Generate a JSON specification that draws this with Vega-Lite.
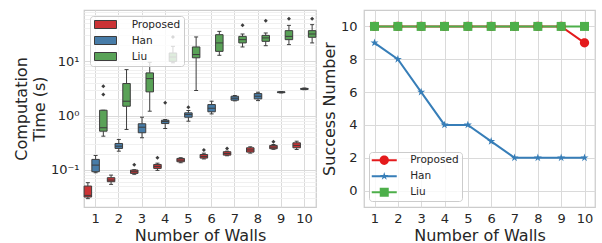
{
  "$schema": "https://vega.github.io/schema/vega-lite/v6.json",
  "padding": {"left": 12, "right": 0, "top": 5, "bottom": 0},
  "spacing": 2,
  "datasets": {
    "boxes": [
      {"walls": 1, "method": "Proposed", "lo": 0.0296, "q1": 0.0317, "med": 0.034, "q3": 0.0505, "hi": 0.0582},
      {"walls": 2, "method": "Proposed", "lo": 0.0542, "q1": 0.0607, "med": 0.065, "q3": 0.0719, "hi": 0.0803},
      {"walls": 3, "method": "Proposed", "lo": 0.083, "q1": 0.0863, "med": 0.0927, "q3": 0.0992, "hi": 0.101},
      {"walls": 4, "method": "Proposed", "lo": 0.098, "q1": 0.1066, "med": 0.116, "q3": 0.126, "hi": 0.133},
      {"walls": 5, "method": "Proposed", "lo": 0.1355, "q1": 0.1413, "med": 0.1513, "q3": 0.1626, "hi": 0.1675},
      {"walls": 6, "method": "Proposed", "lo": 0.159, "q1": 0.165, "med": 0.177, "q3": 0.192, "hi": 0.203},
      {"walls": 7, "method": "Proposed", "lo": 0.182, "q1": 0.187, "med": 0.2, "q3": 0.216, "hi": 0.221},
      {"walls": 8, "method": "Proposed", "lo": 0.2035, "q1": 0.2125, "med": 0.233, "q3": 0.255, "hi": 0.266},
      {"walls": 9, "method": "Proposed", "lo": 0.239, "q1": 0.245, "med": 0.262, "q3": 0.282, "hi": 0.293},
      {"walls": 10, "method": "Proposed", "lo": 0.2375, "q1": 0.255, "med": 0.282, "q3": 0.315, "hi": 0.337},
      {"walls": 1, "method": "Han", "lo": 0.0888, "q1": 0.0927, "med": 0.1225, "q3": 0.156, "hi": 0.1845},
      {"walls": 2, "method": "Han", "lo": 0.221, "q1": 0.248, "med": 0.273, "q3": 0.306, "hi": 0.363},
      {"walls": 3, "method": "Han", "lo": 0.39, "q1": 0.482, "med": 0.61, "q3": 0.705, "hi": 0.931},
      {"walls": 4, "method": "Han", "lo": 0.577, "q1": 0.714, "med": 0.776, "q3": 0.82, "hi": 0.845},
      {"walls": 5, "method": "Han", "lo": 0.786, "q1": 0.93, "med": 1.04, "q3": 1.12, "hi": 1.235},
      {"walls": 6, "method": "Han", "lo": 1.07, "q1": 1.17, "med": 1.36, "q3": 1.59, "hi": 1.83},
      {"walls": 7, "method": "Han", "lo": 1.86, "q1": 1.91, "med": 2.08, "q3": 2.26, "hi": 2.33},
      {"walls": 8, "method": "Han", "lo": 1.88, "q1": 2.02, "med": 2.26, "q3": 2.53, "hi": 2.68},
      {"walls": 9, "method": "Han", "lo": 2.6, "q1": 2.63, "med": 2.68, "q3": 2.73, "hi": 2.76},
      {"walls": 10, "method": "Han", "lo": 2.98, "q1": 3.02, "med": 3.09, "q3": 3.15, "hi": 3.2},
      {"walls": 1, "method": "Liu", "lo": 0.417, "q1": 0.515, "med": 0.594, "q3": 1.25, "hi": 1.25},
      {"walls": 2, "method": "Liu", "lo": 0.554, "q1": 1.48, "med": 1.83, "q3": 3.87, "hi": 6.98},
      {"walls": 3, "method": "Liu", "lo": 1.2, "q1": 2.72, "med": 4.77, "q3": 6.07, "hi": 9.5},
      {"walls": 4, "method": "Liu", "lo": 9.3, "q1": 9.9, "med": 11.9, "q3": 14.1, "hi": 18.7},
      {"walls": 5, "method": "Liu", "lo": 2.88, "q1": 11.5, "med": 13.2, "q3": 18.2, "hi": 27.8},
      {"walls": 6, "method": "Liu", "lo": 12.8, "q1": 15.1, "med": 21.6, "q3": 30.6, "hi": 35.2},
      {"walls": 7, "method": "Liu", "lo": 18.2, "q1": 21.6, "med": 24.8, "q3": 28.5, "hi": 31.5},
      {"walls": 8, "method": "Liu", "lo": 19.2, "q1": 23.1, "med": 26.7, "q3": 29.7, "hi": 32.9},
      {"walls": 9, "method": "Liu", "lo": 20.1, "q1": 24.8, "med": 28.5, "q3": 36.3, "hi": 45.4},
      {"walls": 10, "method": "Liu", "lo": 21.6, "q1": 27.4, "med": 31.5, "q3": 36.3, "hi": 46.8}
    ],
    "outliers": [
      {"walls": 3, "method": "Proposed", "value": 0.1245},
      {"walls": 4, "method": "Proposed", "value": 0.1675},
      {"walls": 6, "method": "Proposed", "value": 0.233},
      {"walls": 7, "method": "Proposed", "value": 0.248},
      {"walls": 9, "method": "Proposed", "value": 0.329},
      {"walls": 4, "method": "Han", "value": 1.71},
      {"walls": 5, "method": "Han", "value": 1.42},
      {"walls": 1, "method": "Liu", "value": 2.43},
      {"walls": 1, "method": "Liu", "value": 3.45},
      {"walls": 4, "method": "Liu", "value": 27.8},
      {"walls": 7, "method": "Liu", "value": 45.4},
      {"walls": 8, "method": "Liu", "value": 55.3},
      {"walls": 9, "method": "Liu", "value": 60.3},
      {"walls": 10, "method": "Liu", "value": 60.3}
    ],
    "success": [
      {"walls": 1, "method": "Proposed", "n": 10}, {"walls": 2, "method": "Proposed", "n": 10},
      {"walls": 3, "method": "Proposed", "n": 10}, {"walls": 4, "method": "Proposed", "n": 10},
      {"walls": 5, "method": "Proposed", "n": 10}, {"walls": 6, "method": "Proposed", "n": 10},
      {"walls": 7, "method": "Proposed", "n": 10}, {"walls": 8, "method": "Proposed", "n": 10},
      {"walls": 9, "method": "Proposed", "n": 10}, {"walls": 10, "method": "Proposed", "n": 9},
      {"walls": 1, "method": "Han", "n": 9}, {"walls": 2, "method": "Han", "n": 8},
      {"walls": 3, "method": "Han", "n": 6}, {"walls": 4, "method": "Han", "n": 4},
      {"walls": 5, "method": "Han", "n": 4}, {"walls": 6, "method": "Han", "n": 3},
      {"walls": 7, "method": "Han", "n": 2}, {"walls": 8, "method": "Han", "n": 2},
      {"walls": 9, "method": "Han", "n": 2}, {"walls": 10, "method": "Han", "n": 2},
      {"walls": 1, "method": "Liu", "n": 10}, {"walls": 2, "method": "Liu", "n": 10},
      {"walls": 3, "method": "Liu", "n": 10}, {"walls": 4, "method": "Liu", "n": 10},
      {"walls": 5, "method": "Liu", "n": 10}, {"walls": 6, "method": "Liu", "n": 10},
      {"walls": 7, "method": "Liu", "n": 10}, {"walls": 8, "method": "Liu", "n": 10},
      {"walls": 9, "method": "Liu", "n": 10}, {"walls": 10, "method": "Liu", "n": 10}
    ]
  },
  "hconcat": [
    {
      "width": 232,
      "height": 197,
      "encoding": {
        "x": {"field": "walls", "type": "ordinal", "title": "Number of Walls",
          "scale": {"domain": [1,2,3,4,5,6,7,8,9,10], "paddingInner": 0, "paddingOuter": 0},
          "axis": {"labelAngle": 0, "grid": true, "bandPosition": 0.5, "labelPadding": 5, "titlePadding": 2}},
        "xOffset": {"field": "method", "type": "nominal",
          "scale": {"domain": ["Proposed", "Han", "Liu"], "paddingInner": 0, "paddingOuter": 0}}
      },
      "layer": [
        {
          "data": {"name": "boxes"},
          "mark": {"type": "rule", "color": "#3d3d3d", "strokeWidth": 1, "opacity": 1},
          "encoding": {
            "y": {"field": "lo", "type": "quantitative", "title": ["Computation", "Time (s)"],
              "scale": {"type": "log", "domain": [0.0208, 87], "nice": false},
              "axis": {
                "values": [0.03,0.04,0.05,0.06,0.07,0.08,0.09,0.1,0.2,0.3,0.4,0.5,0.6,0.7,0.8,0.9,1,2,3,4,5,6,7,8,9,10,20,30,40,50,60,70,80],
                "labelExpr": "datum.value == 0.1 ? '10⁻¹' : datum.value == 1 ? '10⁰' : datum.value == 10 ? '10¹' : ''",
                "gridColor": {"condition": {"test": "datum.value == 0.1 || datum.value == 1 || datum.value == 10", "value": "#dadada"}, "value": "#f0f0f0"},
                "labelOverlap": false, "labelPadding": 5, "titlePadding": 3, "titleLineHeight": 18
              }},
            "y2": {"field": "q1"}
          }
        },
        {
          "data": {"name": "boxes"},
          "mark": {"type": "rule", "color": "#3d3d3d", "strokeWidth": 1, "opacity": 1},
          "encoding": {
            "y": {"field": "q3", "type": "quantitative", "title": ["Computation", "Time (s)"]},
            "y2": {"field": "hi"}
          }
        },
        {
          "data": {"name": "boxes"},
          "mark": {"type": "tick", "orient": "horizontal", "size": 4, "thickness": 1, "color": "#3d3d3d", "opacity": 1},
          "encoding": {"y": {"field": "lo", "type": "quantitative", "title": ["Computation", "Time (s)"]}}
        },
        {
          "data": {"name": "boxes"},
          "mark": {"type": "tick", "orient": "horizontal", "size": 4, "thickness": 1, "color": "#3d3d3d", "opacity": 1},
          "encoding": {"y": {"field": "hi", "type": "quantitative", "title": ["Computation", "Time (s)"]}}
        },
        {
          "data": {"name": "boxes"},
          "mark": {"type": "bar", "size": 7.5, "stroke": "#3d3d3d", "strokeWidth": 1, "opacity": 1},
          "encoding": {
            "y": {"field": "q1", "type": "quantitative", "title": ["Computation", "Time (s)"]},
            "y2": {"field": "q3"},
            "color": {"field": "method", "type": "nominal",
              "scale": {"domain": ["Proposed", "Han", "Liu"], "range": ["#cb3335", "#477ca8", "#59a257"]},
              "legend": {"title": null, "orient": "top-left", "offset": 6,
                "symbolType": "M-2.2,-0.8H2.2V0.8H-2.2Z", "symbolSize": 100,
                "symbolStrokeColor": "#3d3d3d", "symbolStrokeWidth": 1, "symbolOffset": 7,
                "labelFontSize": 10.5, "labelOffset": 20.7, "padding": 3, "rowPadding": 3,
                "fillColor": "rgba(255,255,255,0.8)", "strokeColor": "#cccccc", "cornerRadius": 3}}
          }
        },
        {
          "data": {"name": "boxes"},
          "mark": {"type": "tick", "orient": "horizontal", "size": 7.5, "thickness": 1, "color": "#3d3d3d", "opacity": 1},
          "encoding": {"y": {"field": "med", "type": "quantitative", "title": ["Computation", "Time (s)"]}}
        },
        {
          "data": {"name": "outliers"},
          "mark": {"type": "point", "shape": "diamond", "filled": true, "size": 16, "color": "#3d3d3d", "opacity": 1},
          "encoding": {"y": {"field": "value", "type": "quantitative", "title": ["Computation", "Time (s)"]}}
        }
      ]
    },
    {
      "width": 231,
      "height": 197,
      "data": {"name": "success"},
      "encoding": {
        "x": {"field": "walls", "type": "quantitative", "title": "Number of Walls",
          "scale": {"domain": [0.55, 10.45], "nice": false, "zero": false},
          "axis": {"values": [1,2,3,4,5,6,7,8,9,10], "labelFlush": false, "labelOverlap": false, "labelPadding": 5, "titlePadding": 2}},
        "y": {"field": "n", "type": "quantitative", "title": "Success Number",
          "scale": {"domain": [-1, 11], "nice": false, "zero": false},
          "axis": {"values": [0,2,4,6,8,10], "labelFlush": false, "labelOverlap": false, "labelPadding": 7, "titlePadding": 3}}
      },
      "layer": [
        {
          "mark": {"type": "line", "strokeWidth": 2},
          "encoding": {
            "stroke": {"field": "method", "type": "nominal",
              "scale": {"domain": ["Proposed", "Han", "Liu"], "range": ["#e41a1c", "#377eb8", "#4daf4a"]},
              "legend": null}
          }
        },
        {
          "mark": {"type": "point", "filled": true, "size": 100, "opacity": 1},
          "encoding": {
            "fill": {"field": "method", "type": "nominal",
              "scale": {"domain": ["Proposed", "Han", "Liu"], "range": ["#e41a1c", "#377eb8", "#4daf4a"]},
              "legend": null},
            "shape": {"field": "method", "type": "nominal",
              "scale": {"domain": ["Proposed", "Han", "Liu"], "range": [
                "M0.93,0A0.93,0.93 0 1,1 -0.93,0A0.93,0.93 0 1,1 0.93,0Z",
                "M0,-0.85L0.1908,-0.2627L0.8084,-0.2627L0.3088,0.1003L0.4996,0.6877L0,0.3247L-0.4996,0.6877L-0.3088,0.1003L-0.8084,-0.2627L-0.1908,-0.2627Z",
                "M-0.9,-0.9H0.9V0.9H-0.9Z"]},
              "legend": null}
          }
        },
        {
          "transform": [{"filter": "datum.n > 100"}],
          "mark": {"type": "point", "filled": true, "size": 100, "opacity": 1},
          "encoding": {
            "fill": {"field": "method", "type": "nominal",
              "scale": {"domain": ["Proposed", "Han", "Liu"], "range": ["#e41a1c", "#377eb8", "#4daf4a"]},
              "legend": {"title": null, "orient": "none", "legendX": 5, "legendY": 142,
                "symbolSize": 100, "symbolStrokeWidth": 0, "symbolOffset": 7, "symbolOpacity": 1,
                "labelFontSize": 10.5, "labelOffset": 20.7, "padding": 3, "rowPadding": 5,
                "fillColor": "rgba(255,255,255,0.8)", "strokeColor": "#cccccc", "cornerRadius": 3}},
            "shape": {"field": "method", "type": "nominal",
              "scale": {"domain": ["Proposed", "Han", "Liu"], "range": [
                "M-2.5,-0.2H2.5V0.2H-2.5Z M0.93,0A0.93,0.93 0 1,1 -0.93,0A0.93,0.93 0 1,1 0.93,0Z",
                "M-2.5,-0.2H2.5V0.2H-2.5Z M0,-0.85L0.1908,-0.2627L0.8084,-0.2627L0.3088,0.1003L0.4996,0.6877L0,0.3247L-0.4996,0.6877L-0.3088,0.1003L-0.8084,-0.2627L-0.1908,-0.2627Z",
                "M-2.5,-0.2H2.5V0.2H-2.5Z M-0.9,-0.9H0.9V0.9H-0.9Z"]},
              "legend": {"title": null, "orient": "none", "legendX": 5, "legendY": 142,
                "symbolSize": 100, "symbolStrokeWidth": 0, "symbolOffset": 7, "symbolOpacity": 1,
                "labelFontSize": 10.5, "labelOffset": 20.7, "padding": 3, "rowPadding": 5,
                "fillColor": "rgba(255,255,255,0.8)", "strokeColor": "#cccccc", "cornerRadius": 3}}
          }
        }
      ],
      "resolve": {
        "scale": {"shape": "independent", "fill": "independent"},
        "legend": {"stroke": "independent", "fill": "independent", "shape": "independent"}
      }
    }
  ],
  "config": {
    "font": "DejaVu Sans",
    "view": {"stroke": "#cccccc", "strokeWidth": 1.25},
    "axis": {"domain": false, "ticks": false, "tickSize": 0, "labelFont": "DejaVu Sans", "labelFontSize": 13,
      "labelColor": "#262626", "titleFont": "DejaVu Sans", "titleFontSize": 16, "titleColor": "#262626",
      "titleFontWeight": "normal", "gridColor": "#dadada", "gridWidth": 1},
    "legend": {"labelFont": "DejaVu Sans", "labelColor": "#262626"}
  }
}
